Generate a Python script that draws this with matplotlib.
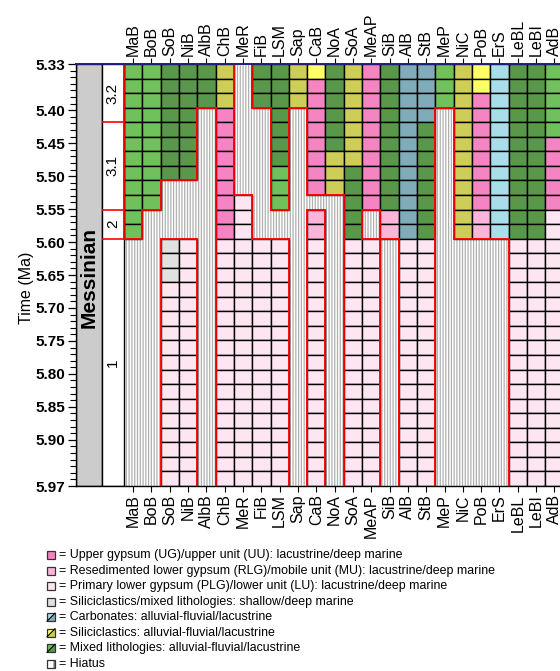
import matplotlib
matplotlib.use("Agg")
import matplotlib.pyplot as plt
import numpy as np
from matplotlib.patches import Rectangle, Polygon
from matplotlib.collections import LineCollection

plt.rcParams["font.family"] = ["Liberation Sans", "DejaVu Sans"]
plt.rcParams["hatch.linewidth"] = 0.9

# --- data -------------------------------------------------------------
basins = ["MaB", "BoB", "SoB", "NiB", "AlbB", "ChB", "MeR", "FiB", "LSM", "Sap",
          "CaB", "NoA", "SoA", "MeAP", "SiB", "AlB", "StB", "MeP", "NiC", "PoB",
          "ErS", "LeBL", "LeBI", "AdB"]

# one letter per time slice (29 slices, 5.33 Ma at the top, 5.97 Ma at the bottom)
# U=upper gypsum, R=resedimented LG, P=primary LG, S=siliciclastics marine,
# C/B=carbonates, Q/Y=siliciclastics, G/D=mixed lithologies, H=hiatus
sections = [
    "G" * 12 + "H" * 17,                       # MaB
    "G" * 10 + "H" * 19,                       # BoB
    "D" * 8 + "H" * 4 + "S" * 3 + "P" * 14,    # SoB
    "D" * 8 + "H" * 4 + "P" * 17,              # NiB
    "D" * 3 + "H" * 26,                        # AlbB
    "Y" * 3 + "U" * 9 + "P" * 17,              # ChB
    "H" * 9 + "P" * 20,                        # MeR
    "D" * 3 + "H" * 9 + "P" * 17,              # FiB
    "D" * 7 + "G" * 3 + "H" * 2 + "P" * 17,    # LSM
    "Y" * 3 + "H" * 26,                        # Sap
    "Q" + "U" * 8 + "H" + "R" * 2 + "P" * 17,  # CaB
    "D" * 6 + "Y" * 3 + "H" * 20,              # NoA
    "Y" * 7 + "D" * 5 + "P" * 17,              # SoA
    "U" * 10 + "H" * 2 + "P" * 17,             # MeAP
    "D" * 10 + "R" * 2 + "H" * 17,             # SiB
    "B" * 12 + "P" * 17,                       # AlB
    "B" * 4 + "D" * 8 + "P" * 17,              # StB
    "G" * 3 + "H" * 26,                        # MeP
    "Y" * 12 + "H" * 17,                       # NiC
    "Q" * 2 + "U" * 8 + "R" * 2 + "H" * 17,    # PoB
    "C" * 12 + "H" * 17,                       # ErS
    "D" * 12 + "P" * 17,                       # LeBL
    "D" * 12 + "P" * 17,                       # LeBI
    "G" * 5 + "U" * 5 + "P" * 19,              # AdB
]

t_top, t_bottom = 5.33, 5.97
time_ticks = [5.33, 5.40, 5.45, 5.50, 5.55, 5.60, 5.65, 5.70, 5.75, 5.80, 5.85, 5.90, 5.97]
stage_labels = ["3.2", "3.1", "2", "1"]
stage_bounds = [0, 4, 10, 12, 29]   # in time slices

legend_labels = [
    "= Upper gypsum (UG)/upper unit (UU): lacustrine/deep marine",
    "= Resedimented lower gypsum (RLG)/mobile unit (MU): lacustrine/deep marine",
    "= Primary lower gypsum (PLG)/lower unit (LU): lacustrine/deep marine",
    "= Siliciclastics/mixed lithologies: shallow/deep marine",
    "= Carbonates: alluvial-fluvial/lacustrine",
    "= Siliciclastics: alluvial-fluvial/lacustrine",
    "= Mixed lithologies: alluvial-fluvial/lacustrine",
    "= Hiatus",
]
legend_codes = ["U", "R", "P", "S", "CB", "QY", "GD", "H"]

colors = {
    "U": "#F584C2", "R": "#F9B5DA", "P": "#FDE5F1", "S": "#E1E1E1",
    "B": "#80ACBA", "C": "#A8DEEA", "Y": "#CDCD57", "Q": "#FFFF66",
    "D": "#59984A", "G": "#70C05B",
}
hatch_col = "#B0B0B0"

n_rows = len(sections[0])
n_cols = len(basins)


def to_row(t):
    return (np.asarray(t) - t_top) / (t_bottom - t_top) * n_rows


# --- figure -----------------------------------------------------------
W, H = 560, 671
fig = plt.figure(figsize=(W / 100, H / 100), dpi=100)
x_left = -2.62
ax = fig.add_axes([76 / W, (H - 486) / H, (563.6 - 76) / W, 422 / H])
ax.set_xlim(x_left, n_cols)
ax.set_ylim(n_rows, 0)

# lithology cells
for c, col in enumerate(sections):
    for r, code in enumerate(col):
        if code == "H":
            ax.add_patch(Rectangle((c, r), 1, 1, facecolor="white", edgecolor=hatch_col,
                                   lw=0, hatch="||||||", zorder=1))
        else:
            ax.add_patch(Rectangle((c, r), 1, 1, facecolor=colors[code], edgecolor="black",
                                   lw=1.0, zorder=2))

# red outlines between hiatus and deposits
is_h = np.array([[ch == "H" for ch in col] for col in sections])  # (cols, rows)
segs = []
for c in range(n_cols):
    for r in range(n_rows):
        left_h = True if c == 0 else is_h[c - 1, r]
        if left_h != is_h[c, r]:
            segs.append([(c, r), (c, r + 1)])
        if r > 0 and is_h[c, r - 1] != is_h[c, r]:
            segs.append([(c, r), (c + 1, r)])
ax.add_collection(LineCollection(segs, colors="red", linewidths=1.3, zorder=4,
                                 capstyle="projecting"))

# Messinian column and stage column
stage_left = -1.22
ax.add_patch(Rectangle((x_left, 0), stage_left - x_left, n_rows, facecolor="#CCCCCC",
                       edgecolor="black", lw=1.0, zorder=2))
ax.text((x_left + stage_left) / 2, n_rows / 2 + 0.2, "Messinian", rotation=90, ha="center",
        va="center", fontsize=15, fontweight="bold", zorder=5)
ax.add_patch(Rectangle((stage_left, 0), -stage_left, n_rows, facecolor="white",
                       edgecolor="black", lw=1.0, zorder=2))
ax.hlines(stage_bounds[1:-1], stage_left, 0, colors="red", lw=1.2, zorder=4)
for lab, a, b in zip(stage_labels, stage_bounds[:-1], stage_bounds[1:]):
    ax.text(stage_left / 2, (a + b) / 2, lab, rotation=90, ha="center", va="center",
            fontsize=11, zorder=5)

# axes decoration
ax.set_yticks(to_row(time_ticks))
ax.set_yticklabels([f"{t:.2f}" for t in time_ticks], fontweight="bold", fontsize=11)
ax.set_yticks(to_row(np.arange(533, 598) / 100), minor=True)
ax.tick_params(axis="y", which="major", length=6, width=0.9, pad=2)
ax.tick_params(axis="y", which="minor", length=4, width=0.8)
ax.set_xticks(np.arange(n_cols) + 0.5)
ax.set_xticklabels(basins, rotation=90, fontsize=11.5)
ax.tick_params(axis="x", top=True, labeltop=True, bottom=True, labelbottom=True,
               length=4, width=0.8, pad=2)
ax.set_ylabel("Time (Ma)", fontsize=11.5)
ax.yaxis.set_label_coords(-0.086, 0.47)
for s in ["left", "bottom"]:
    ax.spines[s].set_linewidth(1.0)
ax.spines["top"].set_color("#1F1F7A")
ax.spines["top"].set_linewidth(1.4)
ax.spines["top"].set_zorder(6)
ax.spines["right"].set_visible(False)

# legend drawn in pixel space
lax = fig.add_axes([0, 0, 1, 1])
lax.set_xlim(0, W)
lax.set_ylim(H, 0)
lax.axis("off")
sx, sz = 47, 8
for i, (lab, code) in enumerate(zip(legend_labels, legend_codes)):
    yc = 555 + 15.55 * i
    y0 = yc - sz / 2
    if code == "H":
        lax.add_patch(Rectangle((sx, y0), sz, sz, facecolor="white", edgecolor="#555555",
                                lw=0, hatch="||"))
    elif len(code) == 1:
        lax.add_patch(Rectangle((sx, y0), sz, sz, facecolor=colors[code], lw=0))
    else:
        lax.add_patch(Polygon([(sx, y0), (sx + sz, y0), (sx, y0 + sz)],
                              facecolor=colors[code[0]], lw=0))
        lax.add_patch(Polygon([(sx + sz, y0), (sx + sz, y0 + sz), (sx, y0 + sz)],
                              facecolor=colors[code[1]], lw=0))
        lax.plot([sx, sx + sz], [y0 + sz, y0], color="black", lw=0.8)
    lax.add_patch(Rectangle((sx, y0), sz, sz, facecolor="none", edgecolor="#333333", lw=0.9))
    lax.text(sx + 12, yc, lab, fontsize=8.95, va="center", ha="left")

fig.savefig("out.png", dpi=100)
